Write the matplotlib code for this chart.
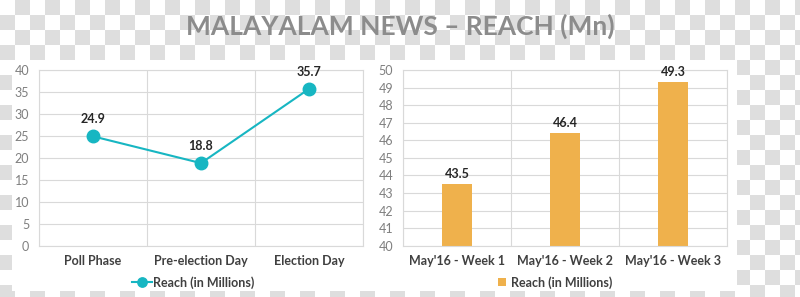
import numpy as np
import matplotlib
matplotlib.use("Agg")
import matplotlib.pyplot as plt
from matplotlib.patches import Rectangle

plt.rcParams["font.family"] = ["Lato", "DejaVu Sans"]

# ── Данные ───────────────────────────────────────────────
title = "MALAYALAM NEWS \u2013 REACH (Mn)"
series_name = "Reach (in Millions)"

phase_labels = ["Poll Phase", "Pre-election Day", "Election Day"]
phase_reach = [24.9, 18.8, 35.7]

week_labels = ["May'16 - Week 1", "May'16 - Week 2", "May'16 - Week 3"]
week_reach = [43.5, 46.4, 49.3]

W, H = 800, 297
GRID = "#d9d9d9"
TICK = "#7f7f7f"
DARK = "#404040"
TEAL = "#17b6c2"
GOLD = "#efb14c"
FS = 9

fig = plt.figure(figsize=(W / 100, H / 100), dpi=100)

# фон: «шахматка» прозрачности + белая подложка
bg = fig.add_axes([0, 0, 1, 1])
rows, cols = np.indices((20, 54))
checker = (rows + cols) % 2
bg.imshow(checker, cmap=matplotlib.colors.ListedColormap(["#ffffff", "#dedede"]),
          extent=[0, 54 * 15, 20 * 15, 0], interpolation="nearest", aspect="auto")
bg.set_xlim(0, W)
bg.set_ylim(H, 0)
bg.axis("off")
bg.add_patch(Rectangle((12, 60), 725, 231, facecolor="white", edgecolor="none"))
bg.text(400, 26, title, ha="center", va="center", fontsize=19,
        fontweight="bold", color="#8c8c8c")


def px_axes(x0, y0, x1, y1):
    return fig.add_axes([x0 / W, 1 - y1 / H, (x1 - x0) / W, (y1 - y0) / H])


def style(ax, n):
    ax.set_facecolor("none")
    ax.set_xlim(-0.5, n - 0.5)
    ax.set_xticks(np.arange(n + 1) - 0.5, minor=True)
    ax.grid(True, axis="y", color=GRID, linewidth=0.8)
    ax.grid(True, axis="x", which="minor", color=GRID, linewidth=0.8)
    ax.grid(False, axis="x", which="major")
    ax.tick_params(axis="both", which="both", length=0)
    ax.tick_params(axis="y", labelsize=FS, labelcolor=TICK, pad=7)
    ax.tick_params(axis="x", labelsize=FS, labelcolor=DARK, pad=7)
    for lbl in ax.get_xticklabels():
        lbl.set_fontweight("bold")
    for sp in ax.spines.values():
        sp.set_color(GRID)
        sp.set_linewidth(0.8)
    ax.set_axisbelow(True)


# ── Линейный график ──────────────────────────────────────
ax1 = px_axes(39, 70, 363, 245.7)
x1 = np.arange(len(phase_labels))
ax1.plot(x1, phase_reach, color=TEAL, linewidth=1.5, marker="o",
         markersize=9, markerfacecolor=TEAL, markeredgecolor=TEAL,
         label=series_name)
ax1.set_ylim(0, 40)
ax1.set_yticks(range(0, 41, 5))
ax1.set_xticks(x1)
ax1.set_xticklabels(phase_labels)
style(ax1, len(phase_labels))
for xi, v in zip(x1, phase_reach):
    ax1.annotate(f"{v}", (xi, v), xytext=(0, 8), textcoords="offset points",
                 ha="center", va="bottom", fontsize=FS, fontweight="bold",
                 color="#262626")
ax1.legend(loc="center", bbox_to_anchor=(0.475, -0.21), frameon=False,
           handlelength=1.6, handletextpad=0.1, markerscale=0.75,
           labelcolor=DARK, prop={"weight": "bold", "size": FS})

# ── Столбчатая диаграмма ─────────────────────────────────
ax2 = px_axes(403, 70, 727, 245.7)
x2 = np.arange(len(week_labels))
ax2.bar(x2, week_reach, width=0.27, color=GOLD, label=series_name)
ax2.set_ylim(40, 50)
ax2.set_yticks(range(40, 51))
ax2.set_xticks(x2)
ax2.set_xticklabels(week_labels)
style(ax2, len(week_labels))
for xi, v in zip(x2, week_reach):
    ax2.annotate(f"{v}", (xi, v), xytext=(0, 3), textcoords="offset points",
                 ha="center", va="bottom", fontsize=FS, fontweight="bold",
                 color="#262626")
ax2.legend(loc="center", bbox_to_anchor=(0.47, -0.21), frameon=False,
           handlelength=0.6, handleheight=0.6, handletextpad=0.4,
           labelcolor=DARK, prop={"weight": "bold", "size": FS})

fig.savefig("out.png", dpi=100)
